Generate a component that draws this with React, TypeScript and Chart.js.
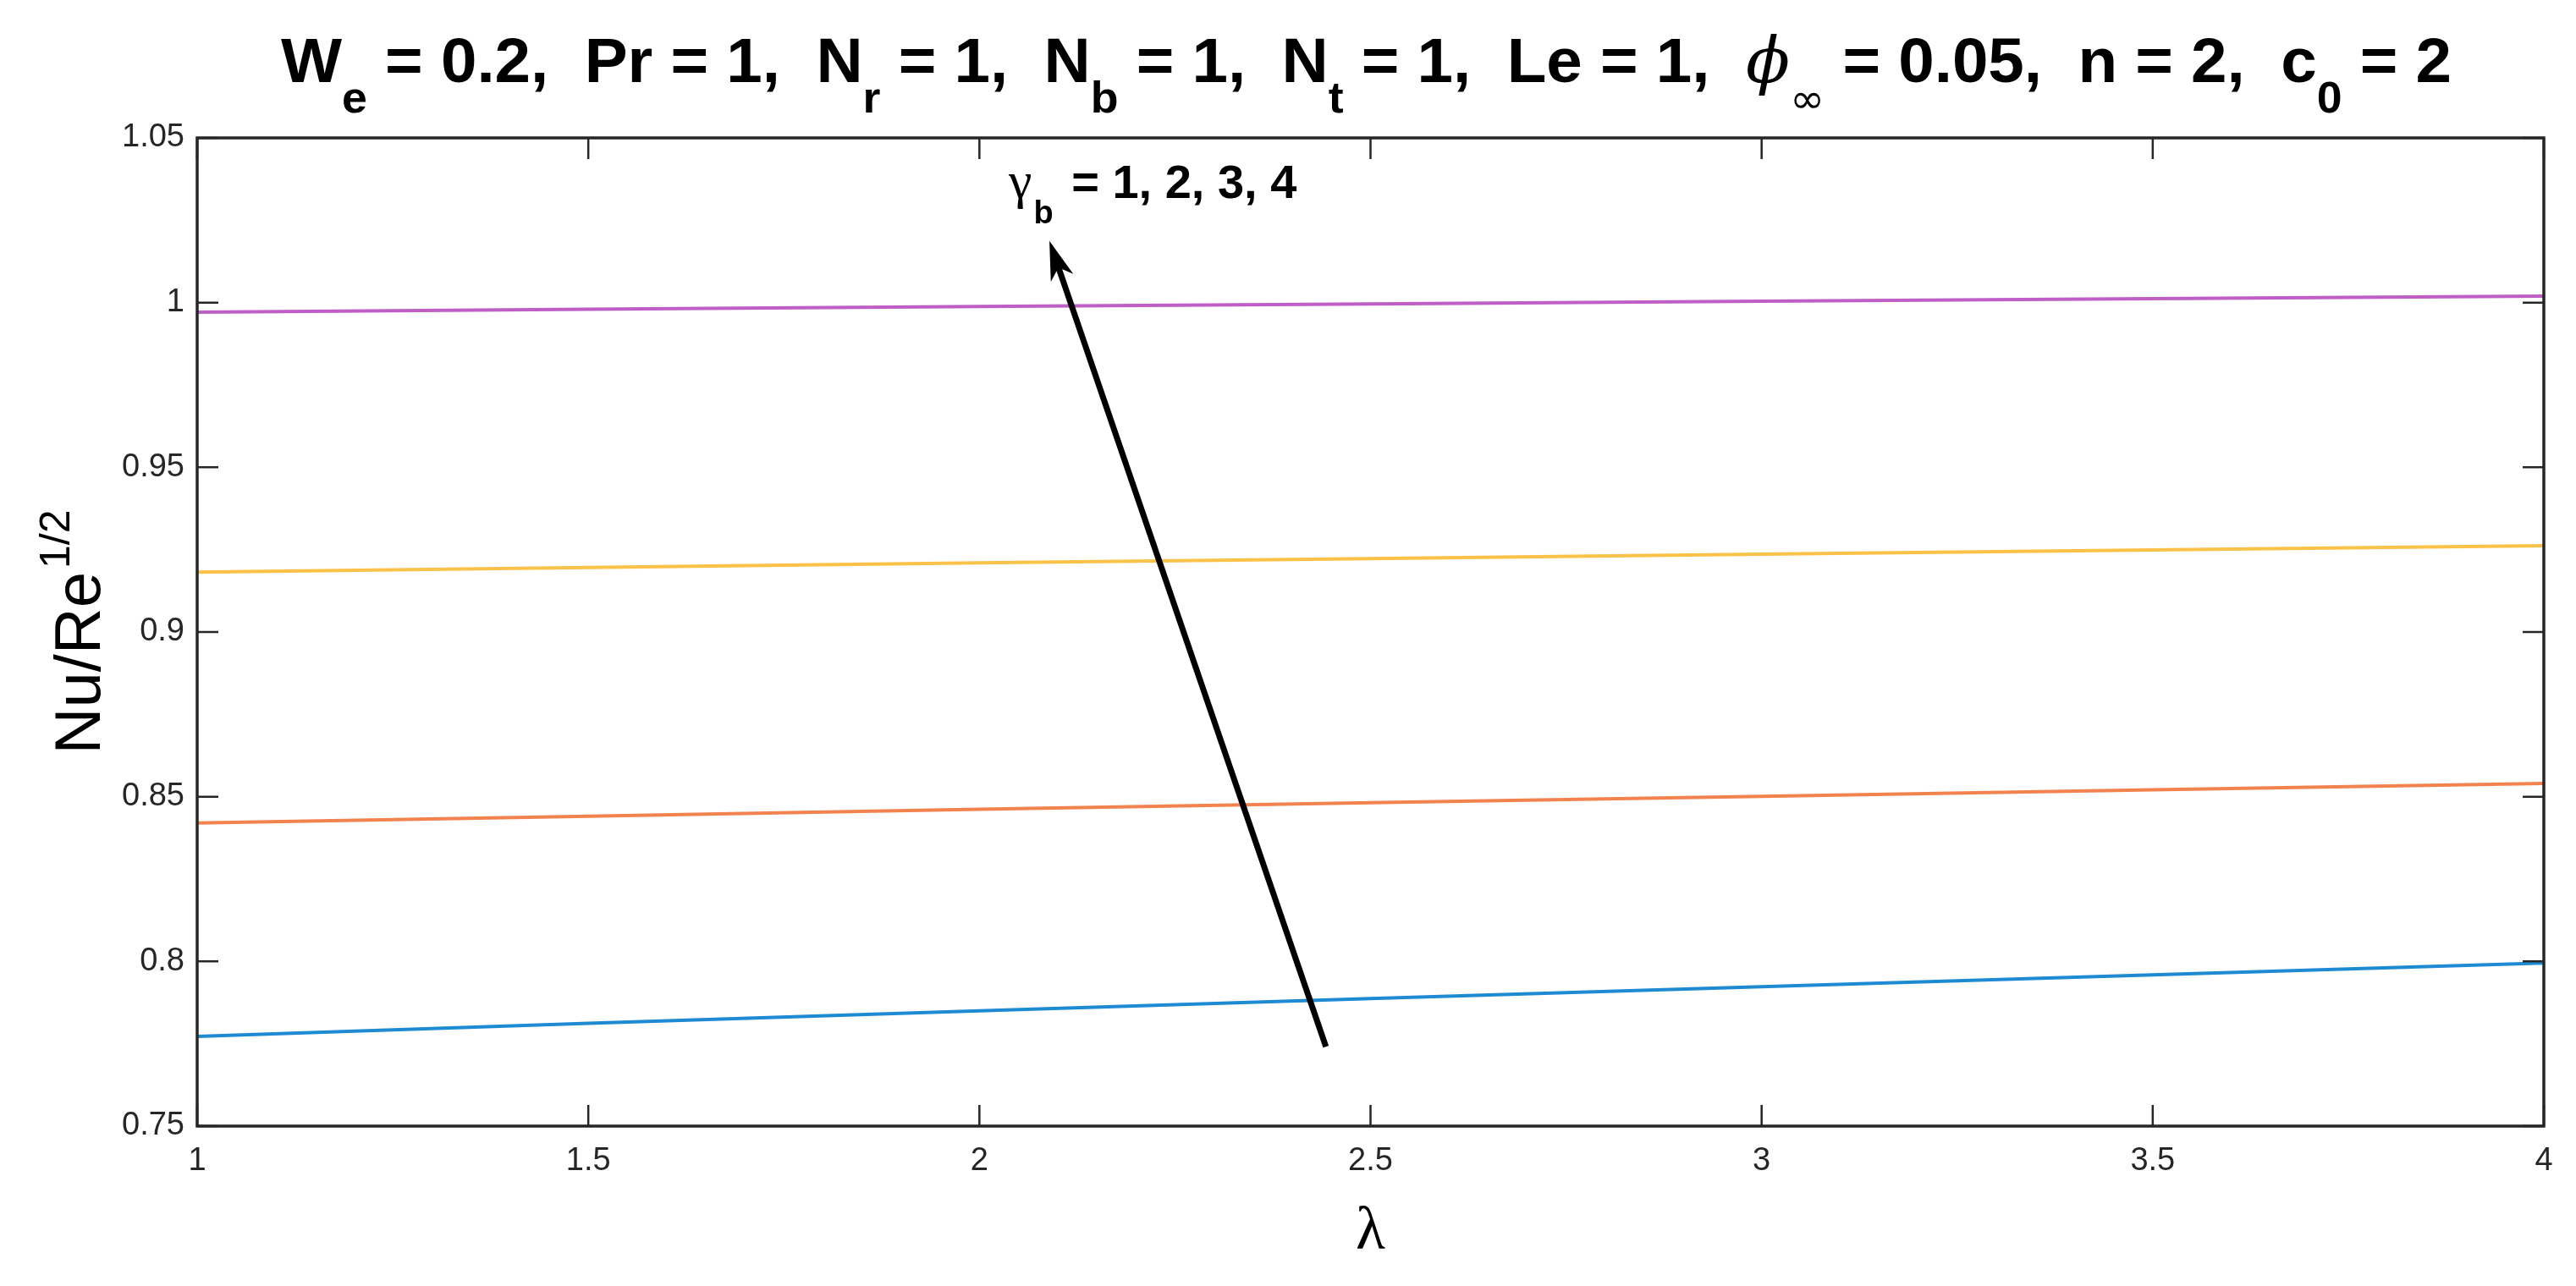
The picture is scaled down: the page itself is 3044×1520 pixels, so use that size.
import React, { useEffect, useRef } from "react";
import { Chart, registerables } from "chart.js";

Chart.register(...registerables);

// ---- data ----
const lambdaValues = [1, 1.5, 2, 2.5, 3, 3.5, 4];
const gammaB1 = [0.7772, 0.7812, 0.785, 0.7887, 0.7923, 0.7959, 0.7995];
const gammaB2 = [0.842, 0.8441, 0.8462, 0.8482, 0.8501, 0.8521, 0.854];
const gammaB3 = [0.9182, 0.9196, 0.921, 0.9223, 0.9236, 0.9249, 0.9262];
const gammaB4 = [0.9971, 0.998, 0.9988, 0.9996, 1.0004, 1.0012, 1.002];
const seriesLabels = ["γb = 1", "γb = 2", "γb = 3", "γb = 4"];
const seriesColors = ["#1E8AD2", "#F2834F", "#FBC24A", "#BE5EC6"];
const arrowFrom = [2.443, 0.7741];
const arrowTo = [2.0895, 1.0187];
const annotationAt = [2.0375, 1.0318];

const W = 3044;
const H = 1520;
const AXIS_COLOR = "#262626";

type Seg = { t: string; sub?: boolean; font?: string };

const titleSegs: Seg[] = [
  { t: "W" }, { t: "e", sub: true },
  { t: " = 0.2,  Pr = 1,  N" }, { t: "r", sub: true },
  { t: " = 1,  N" }, { t: "b", sub: true },
  { t: " = 1,  N" }, { t: "t", sub: true },
  { t: " = 1,  Le = 1,  " },
  { t: "ϕ", font: "italic 74px 'DejaVu Serif'" },
  { t: "∞", sub: true, font: "48px 'DejaVu Sans'" },
  { t: " = 0.05,  n = 2,  c" }, { t: "0", sub: true },
  { t: " = 2" },
];

const decorPlugin = {
  id: "decor",
  afterDatasetsDraw(chart: any) {
    const ctx = chart.ctx;
    const xs = chart.scales.x;
    const ys = chart.scales.y;
    // arrow
    const x0 = xs.getPixelForValue(arrowFrom[0]);
    const y0 = ys.getPixelForValue(arrowFrom[1]);
    const x1 = xs.getPixelForValue(arrowTo[0]);
    const y1 = ys.getPixelForValue(arrowTo[1]);
    const ang = Math.atan2(y1 - y0, x1 - x0);
    const hl = 46, hw = 14;
    ctx.save();
    ctx.strokeStyle = "#000";
    ctx.fillStyle = "#000";
    ctx.lineWidth = 7;
    ctx.lineCap = "butt";
    ctx.beginPath();
    ctx.moveTo(x0, y0);
    ctx.lineTo(x1 - Math.cos(ang) * hl * 0.7, y1 - Math.sin(ang) * hl * 0.7);
    ctx.stroke();
    ctx.beginPath();
    ctx.moveTo(x1, y1);
    ctx.lineTo(x1 - Math.cos(ang) * hl - Math.sin(ang) * hw, y1 - Math.sin(ang) * hl + Math.cos(ang) * hw);
    ctx.lineTo(x1 - Math.cos(ang) * hl * 0.72, y1 - Math.sin(ang) * hl * 0.72);
    ctx.lineTo(x1 - Math.cos(ang) * hl + Math.sin(ang) * hw, y1 - Math.sin(ang) * hl - Math.cos(ang) * hw);
    ctx.closePath();
    ctx.fill();
    // annotation text
    let tx = xs.getPixelForValue(annotationAt[0]);
    const ty = ys.getPixelForValue(annotationAt[1]);
    ctx.textBaseline = "alphabetic";
    ctx.textAlign = "left";
    ctx.font = "62px 'Liberation Serif'";
    ctx.fillText("γ", tx, ty);
    tx += ctx.measureText("γ").width + 2;
    ctx.font = "bold 38px 'Liberation Sans'";
    ctx.fillText("b", tx, ty + 30);
    tx += ctx.measureText("b").width + 6;
    ctx.font = "bold 56px 'Liberation Sans'";
    ctx.fillText(" = 1, 2, 3, 4", tx, ty);
    ctx.restore();
  },
  afterDraw(chart: any) {
    const ctx = chart.ctx;
    const a = chart.chartArea;
    const xs = chart.scales.x;
    const ys = chart.scales.y;
    ctx.save();
    // box
    ctx.strokeStyle = AXIS_COLOR;
    ctx.lineWidth = 3.5;
    ctx.strokeRect(a.left, a.top, a.right - a.left, a.bottom - a.top);
    // inner ticks
    const tl = 25;
    ctx.lineWidth = 2.5;
    ctx.beginPath();
    xs.ticks.forEach((t: any) => {
      const px = xs.getPixelForValue(t.value);
      ctx.moveTo(px, a.bottom);
      ctx.lineTo(px, a.bottom - tl);
      ctx.moveTo(px, a.top);
      ctx.lineTo(px, a.top + tl);
    });
    ys.ticks.forEach((t: any) => {
      const py = ys.getPixelForValue(t.value);
      ctx.moveTo(a.left, py);
      ctx.lineTo(a.left + tl, py);
      ctx.moveTo(a.right, py);
      ctx.lineTo(a.right - tl, py);
    });
    ctx.stroke();

    // title with subscripts
    const mainFont = "bold 74px 'Liberation Sans'";
    const subFont = "bold 52px 'Liberation Sans'";
    let total = 0;
    const widths: number[] = [];
    titleSegs.forEach((s) => {
      ctx.font = s.font || (s.sub ? subFont : mainFont);
      const w = ctx.measureText(s.t).width;
      widths.push(w);
      total += w;
    });
    const target = 2565;
    let sx = target / total;
    sx = Math.max(0.8, Math.min(1.15, sx));
    const cx = (a.left + a.right) / 2 - 5;
    ctx.save();
    ctx.translate(cx - (total * sx) / 2, 97);
    ctx.scale(sx, 1);
    ctx.fillStyle = "#000";
    ctx.textAlign = "left";
    ctx.textBaseline = "alphabetic";
    let x = 0;
    titleSegs.forEach((s, i) => {
      ctx.font = s.font || (s.sub ? subFont : mainFont);
      ctx.fillText(s.t, x, s.sub ? 36 : 0);
      x += widths[i];
    });
    ctx.restore();

    // y axis title: Nu/Re^{1/2}
    ctx.save();
    ctx.fillStyle = "#000";
    const yMain = "76px 'Liberation Sans'";
    const ySup = "50px 'Liberation Sans'";
    ctx.font = yMain;
    const w1 = ctx.measureText("Nu/Re").width;
    ctx.font = ySup;
    const w2 = ctx.measureText("1/2").width;
    const cy = (a.top + a.bottom) / 2;
    ctx.translate(118, cy);
    ctx.rotate(-Math.PI / 2);
    ctx.textAlign = "left";
    ctx.textBaseline = "alphabetic";
    const start = -(w1 + w2 + 4) / 2;
    ctx.font = yMain;
    ctx.fillText("Nu/Re", start, 0);
    ctx.font = ySup;
    ctx.fillText("1/2", start + w1 + 4, -36);
    ctx.restore();

    // x axis title
    ctx.fillStyle = "#000";
    ctx.font = "72px 'Liberation Serif'";
    ctx.textAlign = "center";
    ctx.textBaseline = "alphabetic";
    ctx.fillText("λ", (a.left + a.right) / 2, 1476);
    ctx.restore();
  },
};

const fmt = (v: number) => String(Number(Number(v).toFixed(2)));

export default function App() {
  const ref = useRef<HTMLCanvasElement | null>(null);
  useEffect(() => {
    document.body.style.margin = "0";
    document.body.style.background = "#fff";
    const series = [gammaB1, gammaB2, gammaB3, gammaB4];
    const chart = new Chart(ref.current as HTMLCanvasElement, {
      type: "line",
      data: {
        datasets: series.map((vals, i) => ({
          label: seriesLabels[i],
          data: lambdaValues.map((x, j) => ({ x, y: vals[j] })),
          borderColor: seriesColors[i],
          backgroundColor: seriesColors[i],
          borderWidth: 4,
          pointRadius: 0,
          tension: 0,
          fill: false,
        })),
      },
      options: {
        responsive: false,
        animation: false,
        devicePixelRatio: 1,
        layout: { padding: { top: 163, right: 38, bottom: 0, left: 0 } },
        plugins: {
          legend: { display: false },
          title: { display: false },
          tooltip: { enabled: false },
        },
        scales: {
          x: {
            type: "linear",
            min: 1,
            max: 4,
            ticks: {
              stepSize: 0.5,
              padding: 19,
              color: AXIS_COLOR,
              font: { size: 38, family: "'Liberation Sans'" },
              callback: (v: any) => fmt(v),
              maxRotation: 0,
              autoSkip: false,
            },
            grid: { display: false, drawTicks: false },
            border: { display: false },
            afterFit: (s: any) => {
              s.height = 189;
            },
          },
          y: {
            type: "linear",
            min: 0.75,
            max: 1.05,
            ticks: {
              stepSize: 0.05,
              padding: 15,
              color: AXIS_COLOR,
              font: { size: 38, family: "'Liberation Sans'" },
              callback: (v: any) => fmt(v),
              autoSkip: false,
            },
            grid: { display: false, drawTicks: false },
            border: { display: false },
            afterFit: (s: any) => {
              s.width = 233;
            },
          },
        },
      },
      plugins: [decorPlugin],
    } as any);
    return () => chart.destroy();
  }, []);
  return (
    <div style={{ width: W, height: H, background: "#fff" }}>
      <canvas ref={ref} width={W} height={H} style={{ display: "block" }} />
    </div>
  );
}
